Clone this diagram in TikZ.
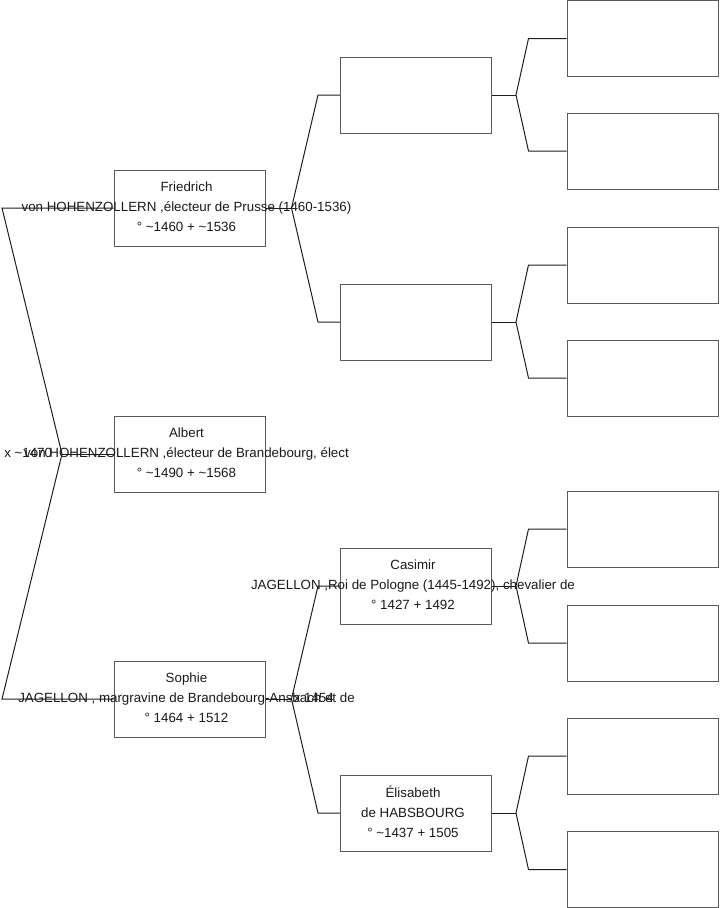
\documentclass[tikz,border=0pt]{standalone}
\usepackage{fontspec}
\setmainfont{Liberation Sans}
\usetikzlibrary{positioning,calc}
\definecolor{cadre}{HTML}{5A5A5A}
\definecolor{trait}{HTML}{1E1E1E}
\definecolor{encre}{HTML}{1A1A1A}
\tikzset{
  fiche/.style={rectangle, draw=cadre, fill=white, line width=0.75pt,
                minimum width=113.25pt, minimum height=57pt, inner sep=0pt},
  nom/.style={align=center, font=\fontsize{10}{15}\selectfont, text=encre, inner sep=0pt,
              xshift=-2.25pt, yshift=0.75pt},
  mariage/.style={anchor=west, font=\fontsize{10}{15}\selectfont, text=encre, inner sep=0pt},
  lien/.style={draw=trait, line width=0.75pt}
}

\begin{document}
\begin{tikzpicture}[x=0.75pt, y=-0.75pt]
  \useasboundingbox (0,0) rectangle (719,908);
  % generation 1
  \node[fiche] (pere) at (189.5,208) {};
  \node[fiche] (moi) at (189.5,454) {};
  \node[fiche] (mere) at (189.5,699) {};
  % generation 2
  \node[fiche] (gp1) at (416,95) {};
  \node[fiche] (gp2) at (416,322) {};
  \node[fiche] (gp3) at (416,586) {};
  \node[fiche] (gp4) at (416,813) {};
  % generation 3
  \foreach \i/\y in {1/38.5,2/151,3/265,4/378,5/529,6/643,7/756,8/869.5}
    \node[fiche] (agp\i) at (642.5,\y) {};

  % branches
  \coordinate (gauche) at (2,0);
  \coordinate (moi-k) at (62,454);
  \draw[lien] (moi.west) -- (moi-k);
  \draw[lien] (pere.west) -- (pere.west -| gauche) -- (moi-k) -- (mere.west -| gauche) -- (mere.west);
  \foreach \e/\p/\m in {pere/gp1/gp2, mere/gp3/gp4} {
    \coordinate (\e-k) at ($(\e.east)+(26,0)$);
    \draw[lien] (\e.east) -- (\e-k);
    \draw[lien] (\p.west) -- ($(\p.west)+(-22,0)$) -- (\e-k) -- ($(\m.west)+(-22,0)$) -- (\m.west);
  }
  \foreach \e/\p/\m in {gp1/agp1/agp2, gp2/agp3/agp4, gp3/agp5/agp6, gp4/agp7/agp8} {
    \coordinate (\e-k) at ($(\e.east)+(24,0)$);
    \draw[lien] (\e.east) -- (\e-k);
    \draw[lien] (\p.west) -- ($(\p.west)+(-38,0)$) -- (\e-k) -- ($(\m.west)+(-38,0)$) -- (\m.west);
  }

  % names
  \node[nom] (pere-txt) at (pere) {Friedrich\\von HOHENZOLLERN ,électeur de Prusse (1460-1536)\\° \textasciitilde1460 + \textasciitilde1536};
  \node[nom] (moi-txt) at (moi) {Albert\\von HOHENZOLLERN ,électeur de Brandebourg, élect\\° \textasciitilde1490 + \textasciitilde1568};
  \node[nom] (mere-txt) at (mere) {Sophie\\JAGELLON , margravine de Brandebourg-Ansbach et de\\° 1464 + 1512};
  \node[nom] (gp3-txt) at (gp3) {Casimir\\JAGELLON ,Roi de Pologne (1445-1492), chevalier de\\° 1427 + 1492};
  \node[nom] (gp4-txt) at (gp4) {Élisabeth\\de HABSBOURG\\° \textasciitilde1437 + 1505};
  \node[mariage] (union1) at ($(gauche |- moi-k)+(2,-1)$) {x \textasciitilde1470};
  \node[mariage] (union2) at ($(mere-k)+(2,-1)$) {x 1454};
\end{tikzpicture}
\end{document}
